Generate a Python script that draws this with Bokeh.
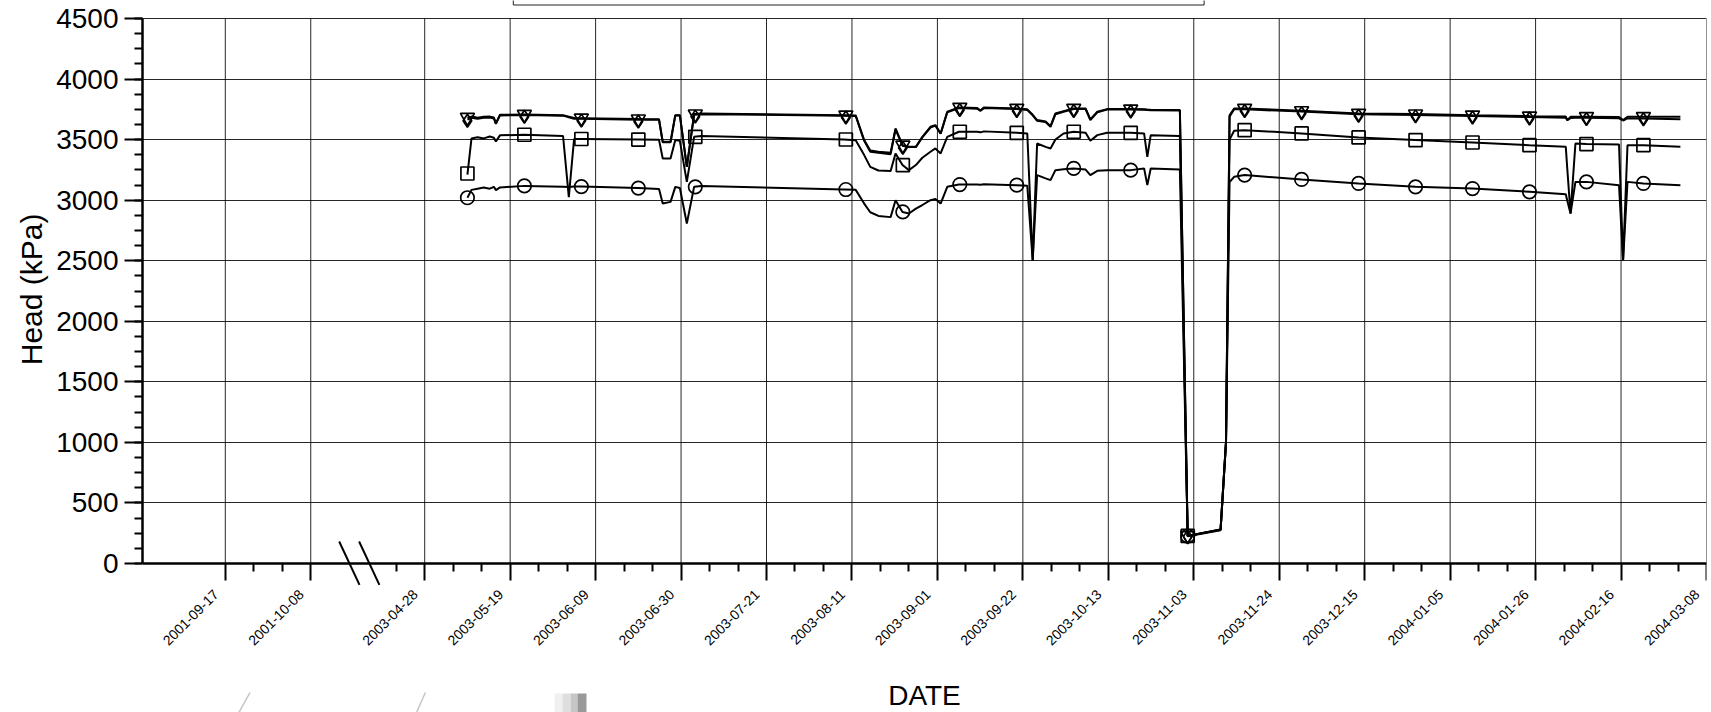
import math
import pandas as pd
from bokeh.plotting import figure
from bokeh.models import FixedTicker, Range1d, Title
from bokeh.core.properties import value
from bokeh.embed import file_html
from bokeh.resources import INLINE

# ---------------- data ----------------
DATES = [
    "2003-05-08 12:00", "2003-05-09 12:00", "2003-05-11 00:00", "2003-05-12 12:00",
    "2003-05-14 00:00", "2003-05-15 00:00", "2003-05-15 12:00", "2003-05-16 12:00",
    "2003-05-22 12:00", "2003-06-01 00:00", "2003-06-02 10:00", "2003-06-03 17:00",
    "2003-06-05 12:00", "2003-06-19 12:00", "2003-06-24 14:00", "2003-06-25 12:00",
    "2003-06-27 10:00", "2003-06-28 14:00", "2003-06-29 17:00", "2003-07-01 10:00",
    "2003-07-03 05:00", "2003-07-05 00:00", "2003-08-09 00:00", "2003-08-11 22:00",
    "2003-08-14 00:00", "2003-08-15 12:00", "2003-08-17 12:00", "2003-08-20 12:00",
    "2003-08-21 17:00", "2003-08-23 10:00", "2003-08-25 00:00", "2003-08-26 17:00",
    "2003-08-28 07:00", "2003-08-30 07:00", "2003-08-31 12:00", "2003-09-01 19:00",
    "2003-09-03 10:00", "2003-09-06 07:00", "2003-09-10 19:00", "2003-09-11 14:00",
    "2003-09-12 10:00", "2003-09-20 12:00", "2003-09-23 02:00", "2003-09-24 10:00",
    "2003-09-25 12:00", "2003-09-27 14:00", "2003-09-28 19:00", "2003-09-30 00:00",
    "2003-10-02 00:00", "2003-10-04 12:00", "2003-10-07 10:00", "2003-10-08 14:00",
    "2003-10-10 07:00", "2003-10-12 17:00", "2003-10-18 12:00", "2003-10-21 19:00",
    "2003-10-22 14:00", "2003-10-23 10:00", "2003-10-30 14:00", "2003-11-01 12:00",
    "2003-11-09 14:00", "2003-11-10 22:00", "2003-11-11 19:00", "2003-11-12 22:00",
    "2003-11-15 12:00", "2003-11-29 12:00", "2003-12-13 12:00", "2003-12-27 12:00",
    "2004-01-10 12:00", "2004-01-24 12:00", "2004-02-02 10:00", "2004-02-02 19:00",
    "2004-02-03 14:00", "2004-02-04 19:00", "2004-02-07 12:00", "2004-02-15 12:00",
    "2004-02-16 12:00", "2004-02-17 14:00", "2004-02-21 12:00", "2004-03-01 14:00",
]
HEAD_TRIANGLE = [
    3680, 3690, 3680, 3688, 3690, 3682, 3634, 3705, 3708, 3702, 3690, 3678,
    3677, 3670, 3668, 3482, 3482, 3702, 3702, 3275, 3711, 3715, 3702, 3700,
    3496, 3410, 3399, 3391, 3592, 3454, 3441, 3441, 3523, 3606, 3620, 3551,
    3730, 3766, 3760, 3740, 3766, 3757, 3750, 3705, 3661, 3650, 3611, 3716,
    3735, 3757, 3757, 3667, 3730, 3752, 3752, 3750, 3748, 3746, 3744, 230,
    278, 1000, 3700, 3757, 3757, 3738, 3716, 3711, 3702, 3694, 3690, 3662,
    3688, 3689, 3689, 3686, 3662, 3688, 3689, 3688,
]
HEAD_DIAMOND = [
    3665, 3680, 3672, 3680, 3682, 3675, 3630, 3700, 3703, 3698, 3685, 3672,
    3672, 3665, 3663, 3478, 3478, 3700, 3700, 3275, 3706, 3710, 3698, 3695,
    3490, 3400, 3392, 3380, 3585, 3450, 3438, 3438, 3518, 3600, 3615, 3548,
    3725, 3760, 3755, 3738, 3760, 3752, 3745, 3700, 3655, 3645, 3605, 3710,
    3730, 3752, 3752, 3662, 3725, 3748, 3748, 3746, 3744, 3742, 3740, 225,
    275, 1000, 3690, 3750, 3750, 3732, 3710, 3703, 3695, 3686, 3680, 3660,
    3678, 3680, 3680, 3676, 3658, 3675, 3674, 3668,
]
HEAD_SQUARE = [
    3210, 3510, 3520, 3510, 3525, 3515, 3485, 3535, 3540, 3530, 3025, 3505,
    3505, 3500, 3498, 3344, 3344, 3496, 3490, 3151, 3523, 3530, 3501, 3495,
    3372, 3275, 3245, 3240, 3386, 3290, 3248, 3290, 3350, 3400, 3427, 3386,
    3523, 3565, 3565, 3560, 3568, 3556, 3551, 2500, 3468, 3440, 3427, 3501,
    3550, 3565, 3556, 3490, 3537, 3556, 3556, 3551, 3358, 3537, 3529, 228,
    280, 1000, 3500, 3573, 3578, 3551, 3518, 3496, 3476, 3454, 3441, 3257,
    2890, 3468, 3463, 3460, 2504, 3454, 3454, 3441,
]
HEAD_CIRCLE = [
    3020, 3085, 3095, 3105, 3095, 3110, 3083, 3105, 3118, 3110, 3108, 3112,
    3112, 3100, 3092, 2972, 2986, 3110, 3100, 2807, 3110, 3116, 3088, 3085,
    2972, 2900, 2870, 2860, 3000, 2903, 2890, 2930, 2960, 3000, 3010, 2972,
    3110, 3129, 3130, 3128, 3132, 3124, 3120, 2500, 3207, 3180, 3165, 3248,
    3255, 3262, 3253, 3207, 3242, 3248, 3248, 3262, 3124, 3262, 3253, 226,
    280, 1000, 3150, 3193, 3207, 3171, 3138, 3110, 3096, 3069, 3049, 2996,
    2890, 3151, 3151, 3124, 2504, 3151, 3138, 3124,
]

MARKER_DATES = [
    "2003-05-08 12:00", "2003-05-22 12:00", "2003-06-05 12:00", "2003-06-19 12:00",
    "2003-07-03 12:00", "2003-08-09 12:00", "2003-08-23 12:00", "2003-09-06 12:00",
    "2003-09-20 12:00", "2003-10-04 12:00", "2003-10-18 12:00", "2003-11-01 12:00",
    "2003-11-15 12:00", "2003-11-29 12:00", "2003-12-13 12:00", "2003-12-27 12:00",
    "2004-01-10 12:00", "2004-01-24 12:00", "2004-02-07 12:00", "2004-02-21 12:00",
]
MK_TRIANGLE = [3683, 3708, 3677, 3670, 3711, 3702, 3454, 3766, 3757, 3757,
               3752, 230, 3757, 3738, 3716, 3711, 3702, 3694, 3689, 3689]
MK_DIAMOND = [3655, 3688, 3657, 3650, 3690, 3682, 3432, 3745, 3737, 3737,
              3732, 222, 3737, 3718, 3697, 3692, 3682, 3675, 3670, 3668]
MK_SQUARE = [3220, 3540, 3505, 3500, 3523, 3501, 3289, 3565, 3556, 3565,
             3556, 228, 3578, 3551, 3518, 3496, 3476, 3454, 3463, 3454]
MK_CIRCLE = [3020, 3118, 3112, 3100, 3110, 3088, 2903, 3129, 3124, 3262,
             3248, 226, 3207, 3171, 3138, 3110, 3096, 3069, 3151, 3138]

TICK_LABELS = [
    "2001-09-17", "2001-10-08", "2003-04-28", "2003-05-19", "2003-06-09",
    "2003-06-30", "2003-07-21", "2003-08-11", "2003-09-01", "2003-09-22",
    "2003-10-13", "2003-11-03", "2003-11-24", "2003-12-15", "2004-01-05",
    "2004-01-26", "2004-02-16", "2004-03-08",
]
Y_TICKS = list(range(0, 4501, 500))
Y_MAX = 4500
X_TITLE = "DATE"
Y_TITLE = "Head (kPa)"

# ------------- broken date axis -------------
AXIS_START = pd.Timestamp("2001-08-27")
BREAK_FROM = pd.Timestamp("2001-10-08")
BREAK_TO = pd.Timestamp("2003-04-28")
BREAK_DAYS = 28


def to_x(d):
    d = pd.Timestamp(d)
    if d <= BREAK_FROM + pd.Timedelta(days=BREAK_DAYS // 2):
        return (d - AXIS_START).total_seconds() / 86400.0
    base = (BREAK_FROM - AXIS_START).days + BREAK_DAYS
    return base + (d - BREAK_TO).total_seconds() / 86400.0


xs = [to_x(d) for d in DATES]
mxs = [to_x(d) for d in MARKER_DATES]
major_x = [int(round(to_x(t))) for t in TICK_LABELS]
minor_x = []
for a, b in zip(major_x[:-1], major_x[1:]):
    if b - a == 21:
        minor_x += [a + 7, a + 14]
minor_x += [major_x[2] - 7]

# ------------- layout (pixels) -------------
W, H = 1711, 712
LEFT, RIGHT = 142, 5
X0 = 0.65
TOP_PX, ZERO_PX = 18, 563          # where Y_MAX and 0 sit on the page
scale = (ZERO_PX - TOP_PX) / Y_MAX  # px per kPa
xscale = (W - RIGHT - LEFT) / (major_x[-1] - X0)
y_lo = -(H - ZERO_PX) / scale
y_hi = Y_MAX + TOP_PX / scale


def to_dx(px):
    return (px - LEFT) / xscale + X0


def to_dy(py):
    return (ZERO_PX - py) / scale


FONT = "Liberation Sans"

p = figure(width=W, height=H, output_backend="svg", toolbar_location=None,
           x_range=Range1d(X0, major_x[-1]), y_range=Range1d(y_lo, y_hi),
           min_border_left=LEFT, min_border_right=RIGHT, min_border_top=0,
           min_border_bottom=0)
p.outline_line_color = None
p.background_fill_color = "white"
p.border_fill_color = "white"

# vertical grid lines, only over the data area
p.xgrid.visible = False
p.segment(x0=major_x, y0=[0] * len(major_x), x1=major_x, y1=[Y_MAX] * len(major_x),
          line_color="black", line_width=1, line_alpha=0.85)
p.ygrid.grid_line_color = "black"
p.ygrid.grid_line_width = 1
p.ygrid.grid_line_alpha = 0.85

for ys in (HEAD_TRIANGLE, HEAD_DIAMOND, HEAD_SQUARE, HEAD_CIRCLE):
    p.line(xs, ys, line_color="black", line_width=2)

p.scatter(mxs, MK_TRIANGLE, marker="inverted_triangle", size=14,
          fill_color=None, line_color="black", line_width=1.7)
p.scatter(mxs, MK_DIAMOND, marker="diamond", size=13,
          fill_color=None, line_color="black", line_width=1.7)
p.scatter(mxs, MK_SQUARE, marker="square", size=13,
          fill_color=None, line_color="black", line_width=1.7)
p.scatter(mxs, MK_CIRCLE, marker="circle", size=13.5,
          fill_color=None, line_color="black", line_width=1.7)

# x axis: line and ticks at y = 0; its labels are drawn as rotated text below
xa = p.xaxis[0]
xa.fixed_location = 0
xa.ticker = FixedTicker(ticks=major_x, minor_ticks=sorted(minor_x))
xa.major_label_overrides = {t: "" for t in major_x}
xa.major_tick_out = 17
xa.major_tick_in = 0
xa.minor_tick_out = 8
xa.minor_tick_in = 0

p.text(x=[t - 13.0 / xscale for t in major_x], y=[to_dy(588)] * len(major_x),
       text=TICK_LABELS, angle=math.pi / 4, text_align="right", text_baseline="top",
       text_font=value(FONT), text_font_size=value("14px"), text_color="black")
p.text(x=[(X0 + major_x[-1]) / 2], y=[to_dy(695)], text=[X_TITLE],
       text_align="center", text_baseline="middle",
       text_font=value(FONT), text_font_size=value("28px"), text_color="black")

ya = p.yaxis[0]
ya.bounds = (0, Y_MAX)
ya.ticker = FixedTicker(ticks=Y_TICKS, minor_ticks=list(range(0, Y_MAX + 1, 125)))
ya.major_label_text_font = FONT
ya.major_label_text_font_size = "28px"
ya.major_label_text_color = "black"
ya.major_label_standoff = 6
ya.major_tick_out = 18
ya.major_tick_in = 0
ya.minor_tick_out = 8
ya.minor_tick_in = 0

# y title: its top end placed so that it is centred on the 0..4500 span
p.add_layout(Title(text=Y_TITLE, align="right", offset=213, standoff=12,
                   text_font=FONT, text_font_size="30px", text_font_style="normal",
                   text_color="black"), "left")

for ax in (xa, ya):
    ax.axis_line_color = "black"
    ax.axis_line_width = 2.5
    ax.major_tick_line_color = "black"
    ax.major_tick_line_width = 2
    ax.minor_tick_line_color = "black"
    ax.minor_tick_line_width = 2

# axis-break marks
for top_px, bot_px in ((338.7, 359.0), (358.6, 378.9)):
    p.segment(x0=[to_dx(top_px)], y0=[to_dy(541)], x1=[to_dx(bot_px)], y1=[to_dy(584.3)],
              line_color="black", line_width=2)

# edge of the (cropped) legend frame above the plot
lx0, lx1, ly = to_dx(512.8), to_dx(1203.6), to_dy(4.5)
p.segment(x0=[lx0, lx0, lx1], y0=[ly, ly, ly], x1=[lx1, lx0, lx1], y1=[ly, y_hi + 50, y_hi + 50],
          line_color="#222222", line_width=1)

# faint grey fragments at the bottom edge
p.segment(x0=[to_dx(249.5), to_dx(424.8)], y0=[to_dy(692)] * 2,
          x1=[to_dx(237.3), to_dx(415.2)], y1=[to_dy(714)] * 2,
          line_color="#c4c4c4", line_width=1.5)
for cx, col, w in ((558, "#f0f0f0", 8), (566, "#dedede", 8), (573.5, "#c6c6c6", 7),
                   (581.5, "#999999", 9)):
    p.segment(x0=[to_dx(cx)], y0=[to_dy(693)], x1=[to_dx(cx)], y1=[to_dy(714)],
              line_color=col, line_width=w)

open("out.html", "w").write(file_html(p, INLINE))
